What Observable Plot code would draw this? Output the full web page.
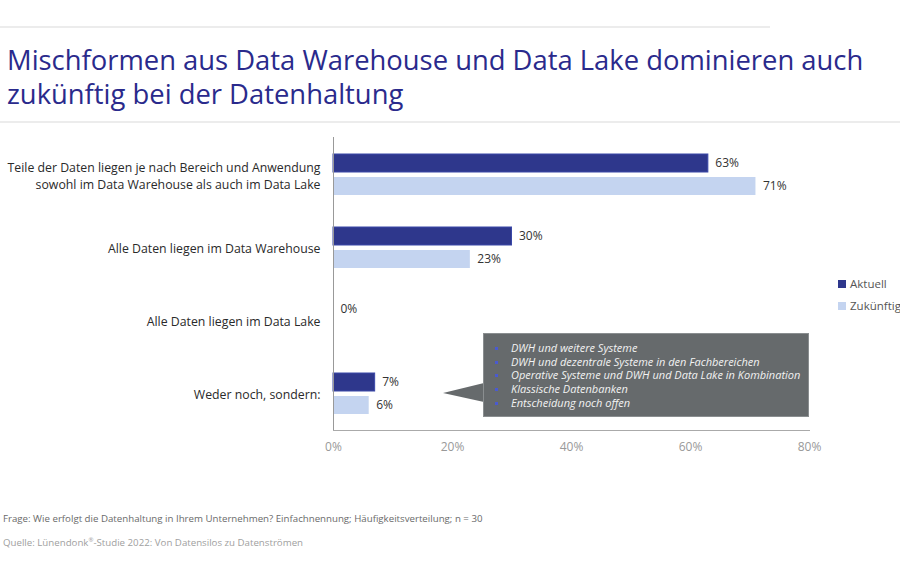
<!DOCTYPE html>
<html>
<head>
<meta charset="utf-8">
<script src="https://cdn.jsdelivr.net/npm/d3@7"></script>
<script src="https://cdn.jsdelivr.net/npm/@observablehq/plot@0.6"></script>
<style>
  html, body { margin: 0; padding: 0; background: #fff; }
  body { width: 900px; height: 563px; position: relative; overflow: hidden; font-family: "Open Sans", sans-serif; }
  .sep1 { position: absolute; left: 0; top: 26px; width: 770px; height: 2px; background: #ececec; }
  .sep2 { position: absolute; left: 0; top: 121px; width: 900px; height: 2px; background: #ececec; }
  h1 { position: absolute; left: 7px; top: 43px; margin: 0; font-weight: 400; font-size: 27.4px; line-height: 34px; color: #2a2a8c; letter-spacing: 0px; }
  #chart { position: absolute; left: 0; top: 130px; }
  #chart g[aria-label="x-axis tick label"] text { fill: #999; }
  .legend { position: absolute; left: 838px; font-size: 11.5px; color: #555; white-space: nowrap; }
  .legend span.sw { display: inline-block; width: 8px; height: 8px; margin-right: 4px; }
  .callout { position: absolute; left: 483px; top: 333px; width: 326px; height: 84px; background: #666a6c; border: 1px solid #8a8e90; box-sizing: border-box; }
  .callout ul { margin: 0; padding: 7px 0 0 11px; list-style: none; }
  .callout li { font-style: italic; font-size: 11px; line-height: 13.7px; color: #f2f2f2; white-space: nowrap; }
  .callout li::before { content: ""; display: inline-block; width: 3px; height: 3px; background: #4a5ad0; margin-right: 13px; vertical-align: 2px; }
  .foot1 { position: absolute; left: 3px; top: 512px; font-size: 9.7px; color: #6a6a6a; }
  .foot2 { position: absolute; left: 3px; top: 536px; font-size: 9.7px; color: #a0a0a0; }
</style>
</head>
<body>
<div class="sep1"></div>
<h1>Mischformen aus Data Warehouse und Data Lake dominieren auch<br>zukünftig bei der Datenhaltung</h1>
<div class="sep2"></div>
<div id="chart"></div>
<div class="legend" style="top:276px"><span class="sw" style="background:#2e378c"></span>Aktuell</div>
<div class="legend" style="top:298px"><span class="sw" style="background:#c4d4f0"></span>Zukünftig</div>
<svg width="900" height="563" style="position:absolute;left:0;top:0;pointer-events:none">
  <polygon points="484,383 443,393 484,402" fill="#666a6c"/>
</svg>
<div class="callout"><ul id="calloutList"></ul></div>
<div class="foot1">Frage: Wie erfolgt die Datenhaltung in Ihrem Unternehmen? Einfachnennung; Häufigkeitsverteilung; n = 30</div>
<div class="foot2">Quelle: Lünendonk<sup style="font-size:6px">®</sup>-Studie 2022: Von Datensilos zu Datenströmen</div>
<script>
const categories = [
  "Teile der Daten liegen je nach Bereich und Anwendung\nsowohl im Data Warehouse als auch im Data Lake",
  "Alle Daten liegen im Data Warehouse",
  "Alle Daten liegen im Data Lake",
  "Weder noch, sondern:"
];
const aktuell = [63, 30, 0, 7];
const zukuenftig = [71, 23, null, 6];
const xTicks = [0, 20, 40, 60, 80];
const calloutItems = [
  "DWH und weitere Systeme",
  "DWH und dezentrale Systeme in den Fachbereichen",
  "Operative Systeme und DWH und Data Lake in Kombination",
  "Klassische Datenbanken",
  "Entscheidung noch offen"
];

const list = document.getElementById("calloutList");
calloutItems.forEach(t => { const li = document.createElement("li"); li.textContent = t; list.appendChild(li); });

const rowsA = categories.map((c, i) => ({category: c, value: aktuell[i]}));
const rowsZ = categories.map((c, i) => ({category: c, value: zukuenftig[i]})).filter(d => d.value != null);

const chart = Plot.plot({
  width: 900,
  height: 330,
  marginTop: 7,
  marginBottom: 30,
  marginLeft: 333,
  marginRight: 91,
  style: {fontFamily: "Open Sans, sans-serif", fontSize: "12px", background: "transparent", overflow: "visible"},
  x: {domain: [0, 80], ticks: xTicks, tickFormat: d => d + "%", tickSize: 0, tickPadding: 12, label: null},
  y: {domain: categories, paddingInner: 0.44, paddingOuter: 0.213, axis: null},
  marks: [
    Plot.frame({anchor: "bottom", stroke: "#aaa", strokeWidth: 1}),
    Plot.barX(rowsA, {x: "value", y: "category", fill: "#2e378c", stroke: "#3a48a8", strokeWidth: 1, insetBottom: 23}),
    Plot.barX(rowsZ, {x: "value", y: "category", fill: "#c4d4f0", insetTop: 23}),
    Plot.text(rowsA, {x: "value", y: "category", text: d => d.value + "%", dy: -11.5, dx: 7, textAnchor: "start", fill: "#333", fontSize: 12}),
    Plot.text(rowsZ, {x: "value", y: "category", text: d => d.value + "%", dy: 11.5, dx: 7, textAnchor: "start", fill: "#333", fontSize: 12}),
    Plot.text(categories, {y: d => d, text: d => d, frameAnchor: "left", textAnchor: "end", dx: -13, lineHeight: 1.38, fill: "#2a2a2a", fontSize: 12.3}),
    Plot.ruleX([0], {stroke: "#999", strokeWidth: 1})
  ]
});
document.getElementById("chart").appendChild(chart);
</script>
</body>
</html>
